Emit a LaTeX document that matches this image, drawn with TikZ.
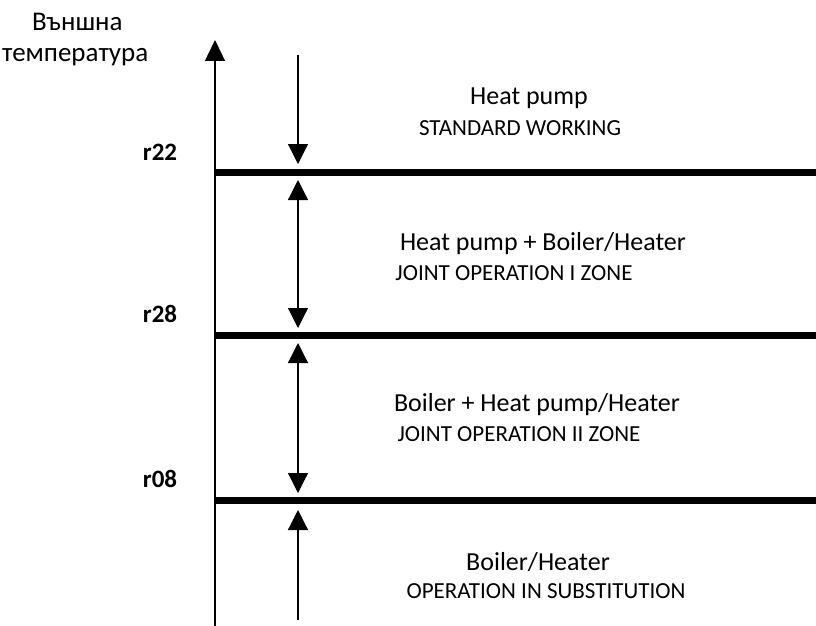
\documentclass[tikz,border=0pt]{standalone}
\usepackage{fontspec}
\setmainfont{Carlito}
\usetikzlibrary{arrows.meta}
\begin{document}
\begin{tikzpicture}[x=1pt,y=-1pt,
  axisline/.style={line width=1.4pt,-{Triangle[width=20pt,length=21pt]}},
  levelline/.style={line width=7pt},
  spanarrow/.style={line width=1.2pt,-{Triangle[width=20pt,length=20pt]}},
  spanboth/.style={line width=1.2pt,{Triangle[width=20pt,length=20pt]}-{Triangle[width=20pt,length=20pt]}},
  maintext/.style={font=\fontsize{26}{30}\selectfont,inner sep=0pt},
  subtext/.style={font=\fontsize{23}{27}\selectfont,inner sep=0pt},
  rlabel/.style={font=\fontsize{25}{30}\selectfont\bfseries,inner sep=0pt},
  axistitle/.style={font=\fontsize{27}{31}\selectfont,inner sep=0pt,align=center}
]
\useasboundingbox (0,0) rectangle (816,626);

% axis
\coordinate (axbot) at (215,626);
\coordinate (axtop) at (215,40);
\draw[axisline] (axbot) -- (axtop);
\node[axistitle,anchor=west] (t1) at (32,22) {Външна};
\node[axistitle,anchor=west] (t2) at (2,57) {температура};

% level lines
\coordinate (l1a) at (215,172); \coordinate (l1b) at (816,172);
\coordinate (l2a) at (215,335); \coordinate (l2b) at (816,335);
\coordinate (l3a) at (215,500); \coordinate (l3b) at (816,500);
\draw[levelline] (l1a) -- (l1b);
\draw[levelline] (l2a) -- (l2b);
\draw[levelline] (l3a) -- (l3b);

\node[rlabel] (r22) at (160,152) {r22};
\node[rlabel] (r28) at (160,314) {r28};
\node[rlabel] (r08) at (160,479) {r08};

% span arrows
\coordinate (a1s) at (298,55);  \coordinate (a1e) at (298,164);
\coordinate (a2s) at (298,180); \coordinate (a2e) at (298,328);
\coordinate (a3s) at (298,343); \coordinate (a3e) at (298,493);
\coordinate (a4s) at (298,620); \coordinate (a4e) at (298,510);
\draw[spanarrow] (a1s) -- (a1e);
\draw[spanboth] (a2s) -- (a2e);
\draw[spanboth] (a3s) -- (a3e);
\draw[spanarrow] (a4s) -- (a4e);

% zone texts
\node[maintext] (z1a) at (529,98) {Heat pump};
\node[subtext] (z1b) at (520,128) {STANDARD WORKING};
\node[maintext] (z2a) at (543,244) {Heat pump + Boiler/Heater};
\node[subtext] (z2b) at (514,273) {JOINT OPERATION I ZONE};
\node[maintext] (z3a) at (537,405) {Boiler + Heat pump/Heater};
\node[subtext] (z3b) at (519,434) {JOINT OPERATION II ZONE};
\node[maintext] (z4a) at (538,562) {Boiler/Heater};
\node[subtext] (z4b) at (546,591) {OPERATION IN SUBSTITUTION};
\end{tikzpicture}
\end{document}
